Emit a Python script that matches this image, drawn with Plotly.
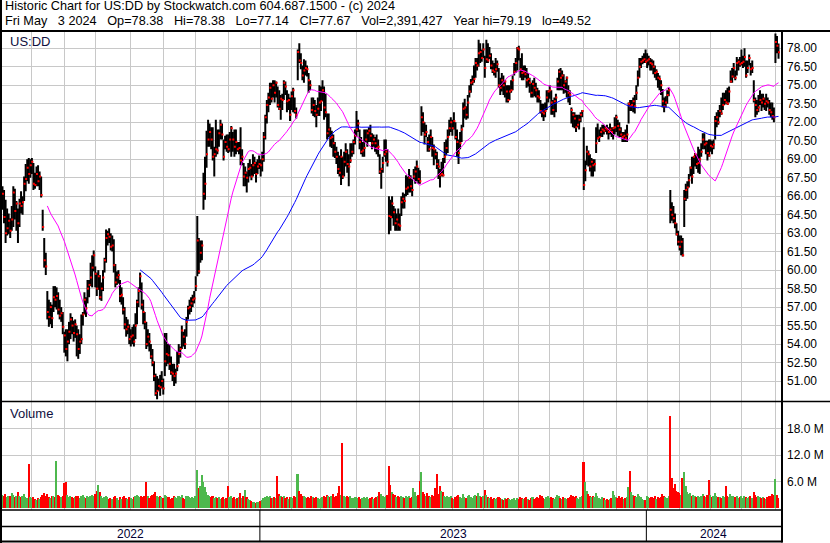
import pandas as pd
import plotly.graph_objects as go

# ---------------- data ----------------
HOLIDAYS = ["2022-05-30", "2022-06-20", "2022-07-04", "2022-09-05", "2022-11-24", "2022-12-26",
            "2023-01-02", "2023-01-16", "2023-02-20", "2023-04-07", "2023-05-29", "2023-06-19",
            "2023-07-04", "2023-09-04", "2023-11-23", "2023-12-25", "2024-01-01", "2024-01-15",
            "2024-02-19", "2024-03-29"]
START_DATE, END_DATE = "2022-05-04", "2024-05-03"

high = [
    66.8,66.5,65.7,65.0,64.6,64.2,65.2,66.8,66.6,65.6,65.0,65.8,66.4,66.0,67.6,68.6,69.0,69.1,69.0,
    69.1,68.7,67.9,68.4,68.5,68.0,67.6,64.9,62.6,61.4,58.3,57.6,57.4,57.2,58.7,58.7,58.6,58.2,57.6,57.0,56.6,
    55.0,55.2,55.2,55.8,56.5,56.2,55.9,56.0,55.5,55.2,54.8,56.4,56.6,58.2,57.8,59.2,59.2,60.6,61.2,61.6,
    60.3,59.8,60.0,59.6,59.0,60.0,61.0,63.3,63.2,63.4,63.0,62.8,62.5,60.5,59.9,60.0,59.2,58.6,57.8,57.0,56.2,56.0,55.6,
    55.2,55.4,55.6,56.5,57.6,58.6,59.8,59.0,57.6,56.6,55.8,55.2,54.9,54.0,53.6,52.6,51.6,51.4,51.2,51.5,51.8,
    51.2,54.9,54.9,54.0,54.0,53.0,52.4,52.4,52.0,53.4,54.0,53.8,55.5,55.0,55.2,56.2,57.1,57.6,57.8,58.0,58.3,
    59.5,64.4,62.6,62.4,62.4,67.9,69.2,71.3,72.2,71.9,71.6,71.6,70.0,72.2,71.4,71.4,72.2,71.9,70.6,70.9,71.0,
    71.0,71.2,71.7,71.2,71.4,71.4,70.4,70.4,71.6,69.8,68.7,68.4,68.0,68.7,69.0,68.6,69.4,69.2,68.8,69.0,69.3,
    69.0,69.6,71.2,72.6,73.8,74.4,75.2,75.2,75.4,75.4,75.3,74.9,74.6,74.2,74.3,75.4,75.3,74.6,74.3,74.0,
    74.5,74.8,74.0,73.2,77.9,78.4,77.6,76.6,77.1,77.0,76.6,76.0,75.4,74.0,74.0,73.8,73.4,74.0,75.0,
    74.9,75.4,74.9,74.3,72.7,72.7,71.6,71.3,71.0,70.4,70.0,69.6,69.3,69.8,69.2,69.6,70.3,69.8,69.4,70.3,70.3,70.6,71.4,
    72.9,72.2,71.4,70.8,70.4,71.4,71.4,71.4,71.6,71.8,71.1,71.0,70.8,71.0,70.6,69.4,68.3,69.2,70.6,
    70.6,69.8,66.0,65.7,66.0,65.2,65.0,64.6,65.0,64.6,66.0,66.3,66.2,67.7,67.6,68.2,67.7,67.4,68.2,68.4,68.9,68.3,
    68.1,73.3,72.8,72.0,71.8,70.8,71.0,71.4,70.8,70.2,69.8,69.6,69.0,68.2,68.8,69.1,70.4,70.6,71.4,72.2,72.4,
    72.2,72.8,72.0,71.4,70.6,71.2,71.8,73.6,73.9,73.3,74.2,75.0,75.5,75.8,76.6,77.2,77.2,78.7,78.4,77.9,
    78.4,77.4,78.7,78.4,78.1,77.6,77.0,76.8,77.2,77.0,76.4,75.6,76.0,75.8,75.4,75.0,75.0,75.0,75.4,75.8,76.8,77.2,78.1,
    78.2,77.2,77.6,76.6,76.6,76.4,76.0,75.6,75.2,75.4,75.6,75.2,74.8,74.6,73.8,73.5,73.5,73.6,74.6,74.6,
    75.0,74.6,73.8,74.0,74.3,75.6,76.3,76.4,76.2,75.9,75.4,75.7,75.0,74.6,73.2,72.8,72.8,72.6,72.6,72.6,72.8,73.0,
    71.6,68.9,70.1,69.7,69.4,69.1,69.0,69.0,71.6,71.9,71.4,71.6,71.8,71.8,71.7,71.8,71.6,71.9,71.6,71.6,72.4,
    72.6,72.2,72.0,71.6,71.2,71.2,71.4,71.8,73.6,73.8,73.8,74.0,74.2,75.0,76.2,77.2,77.2,77.4,77.6,77.9,
    77.6,77.4,77.2,77.1,77.0,76.6,76.3,76.0,75.8,75.4,74.7,74.0,74.1,74.6,74.8,66.5,65.5,65.2,64.6,63.8,63.2,
    62.8,62.8,62.6,66.5,67.0,67.2,67.8,68.4,69.2,69.2,69.5,69.4,70.0,69.8,70.3,71.1,71.1,70.5,70.5,70.6,
    70.6,70.5,70.6,72.5,72.8,73.0,73.4,74.0,74.4,74.4,74.6,74.8,74.9,76.2,76.4,76.8,76.2,77.3,77.1,77.3,
    77.9,77.4,78.0,77.0,77.0,77.5,76.8,77.0,75.4,74.0,73.8,74.2,74.6,74.3,74.3,74.0,74.3,74.0,73.8,73.6,73.6,73.2,
    79.19,79.0,78.38,
]

low = [
    64.9,63.8,62.2,62.8,62.9,62.6,63.2,63.5,64.1,63.2,62.2,63.5,64.6,64.5,65.6,66.4,67.2,67.0,67.5,
    67.8,66.5,66.6,66.8,66.8,66.5,65.9,63.2,60.2,59.6,56.0,55.4,55.6,55.3,56.6,57.0,56.8,56.4,56.0,55.8,54.8,
    53.3,53.0,52.6,54.0,54.4,54.8,54.2,54.5,53.0,52.8,53.2,54.0,55.5,56.4,56.2,57.3,57.8,58.7,58.6,59.9,
    58.6,57.9,58.4,57.6,57.5,58.3,59.8,60.6,62.0,62.2,61.6,61.5,59.8,58.6,58.8,58.9,57.4,57.2,56.4,55.2,54.6,54.8,54.0,
    53.8,54.0,53.8,54.4,55.6,57.0,58.2,56.8,55.6,55.2,53.6,53.8,53.4,52.8,52.2,51.0,49.8,49.52,50.2,49.8,50.4,
    49.9,51.4,52.2,52.4,51.9,51.5,51.0,50.6,50.8,51.8,52.4,52.9,53.6,53.8,53.6,54.6,56.0,56.4,56.6,57.0,57.3,
    58.3,59.5,59.7,60.6,60.8,64.9,65.7,68.3,70.0,70.0,69.8,68.9,67.6,69.2,69.4,70.0,70.6,70.6,68.9,69.8,69.6,
    69.5,69.6,69.2,69.6,69.2,69.4,69.6,69.4,68.5,68.5,66.8,66.8,66.3,67.1,67.6,67.3,67.6,67.8,67.1,67.8,68.2,
    67.6,68.0,68.8,70.6,71.9,72.8,73.4,73.6,74.0,73.6,74.0,73.2,73.0,72.2,73.0,73.8,74.2,72.8,73.0,72.1,
    73.0,72.8,72.7,72.3,75.4,76.8,76.3,75.4,75.2,75.8,75.7,74.4,74.6,72.7,72.5,72.4,71.6,72.5,72.5,
    72.9,73.7,72.2,72.4,70.6,70.8,70.0,69.9,69.2,69.1,68.6,67.8,67.6,66.9,67.4,67.6,68.4,67.9,66.8,68.7,69.2,69.4,70.2,
    70.8,71.2,69.8,69.4,69.2,69.2,70.4,70.0,70.4,70.4,69.8,70.0,69.6,69.4,69.2,67.8,66.6,67.9,69.2,
    68.8,68.4,62.9,63.2,64.2,63.6,63.2,63.2,63.2,63.2,64.4,65.0,65.0,66.0,66.1,66.3,66.3,66.0,67.4,67.0,67.2,67.0,
    67.0,70.9,71.2,70.2,70.8,69.6,69.6,70.0,69.2,68.5,69.0,68.2,67.4,66.7,67.6,67.6,68.7,69.3,69.5,70.9,71.2,
    70.9,71.4,70.6,69.2,68.6,69.8,70.4,71.6,72.3,72.2,72.3,74.0,74.4,75.0,75.2,75.6,76.2,76.5,76.8,76.9,
    77.2,75.6,76.8,76.8,77.1,76.3,76.0,75.8,75.6,76.1,74.8,74.2,74.5,74.2,74.0,73.6,73.6,73.8,74.4,74.6,75.8,76.0,76.2,
    77.0,75.6,75.4,75.4,75.6,74.8,74.9,74.4,74.0,74.0,74.1,74.0,73.6,73.6,72.7,72.4,72.1,72.4,73.0,73.6,
    73.9,72.6,72.6,72.4,72.8,74.6,74.6,74.6,74.6,74.3,74.4,74.0,73.6,73.4,71.9,71.6,71.5,71.2,71.6,71.4,72.0,72.4,
    66.5,67.2,68.5,68.4,68.0,67.6,67.6,68.0,69.5,70.6,70.4,70.8,70.8,71.0,71.2,71.0,70.6,71.0,70.8,70.6,71.0,
    71.2,70.9,70.8,70.8,70.4,70.4,70.4,70.4,71.9,72.9,72.9,72.8,72.7,73.8,74.9,75.6,76.4,76.7,76.8,76.8,
    76.4,76.6,76.2,76.2,75.9,75.6,75.4,74.8,74.6,74.2,73.2,72.8,73.2,73.5,74.1,63.8,64.0,63.8,63.4,62.8,62.0,
    61.6,61.2,61.1,63.5,65.6,65.8,66.7,67.6,67.0,67.8,68.4,68.2,67.9,67.8,69.2,69.8,69.8,69.4,68.9,69.2,
    69.6,69.4,69.8,70.6,71.6,71.8,72.4,72.6,73.0,73.4,73.5,73.4,73.6,75.2,75.2,75.6,75.4,75.8,76.2,76.5,
    76.6,76.4,76.5,75.6,76.0,76.6,75.8,76.0,73.6,72.4,72.6,72.8,73.4,72.9,73.2,73.0,72.9,73.2,72.6,72.4,72.2,72.0,
    76.8,77.6,77.14,
]

close = [
    66.2,64.3,63.0,63.4,64.0,63.2,64.1,66.3,64.8,65.4,63.8,65.4,65.2,65.5,67.0,67.4,68.3,67.8,68.5,
    68.8,67.0,66.9,67.8,67.2,67.6,66.1,63.5,60.8,60.3,56.6,56.2,57.0,56.1,57.8,57.6,57.9,56.8,56.3,56.5,55.4,
    54.7,53.6,54.2,55.0,56.0,55.5,54.9,55.6,54.8,53.6,54.2,54.4,56.4,57.6,56.9,58.5,58.8,59.4,60.2,61.2,
    59.7,58.5,59.5,57.8,58.5,59.4,60.8,62.6,62.9,62.7,61.9,62.0,60.4,59.0,59.4,59.6,57.9,58.0,56.8,55.6,55.2,55.4,54.4,
    54.6,54.7,54.2,55.5,57.4,58.3,59.5,57.2,56.6,55.8,54.0,54.6,54.2,53.0,52.5,51.4,50.0,50.2,50.6,50.5,51.0,
    50.4,52.6,53.2,53.1,52.4,51.7,51.6,51.4,51.6,52.2,53.2,53.6,55.1,54.6,54.0,55.8,56.9,57.0,57.3,57.6,57.7,
    58.7,62.4,59.9,61.4,62.0,66.2,67.0,69.4,70.6,71.2,70.6,69.2,69.4,69.8,69.7,71.1,71.8,71.0,69.2,70.4,70.0,
    69.8,70.6,71.5,70.6,70.0,70.4,69.8,69.9,68.9,69.2,67.6,67.9,67.5,68.2,68.3,67.6,68.5,68.7,67.8,68.4,68.6,
    68.5,69.0,70.8,72.4,73.4,74.0,74.8,73.9,75.0,74.4,75.2,73.4,73.1,73.9,73.8,75.2,74.9,73.7,73.8,72.6,
    74.1,74.6,72.9,72.6,77.7,77.0,76.8,75.8,76.2,76.4,76.3,75.4,75.0,73.0,73.4,72.9,72.6,73.1,73.6,
    73.7,74.6,73.2,72.8,71.1,71.4,70.7,70.8,70.3,69.6,69.2,68.2,67.9,69.2,67.6,68.8,69.6,68.6,68.4,68.9,69.6,70.4,70.9,
    71.4,71.9,70.4,69.6,69.7,69.9,70.6,71.1,71.3,70.9,70.3,70.6,70.3,69.9,70.0,68.0,68.2,68.7,69.4,
    69.6,68.8,64.4,64.3,65.4,64.7,63.8,64.1,63.7,63.6,65.5,65.8,65.6,66.6,66.7,67.5,66.8,66.5,67.6,68.0,68.4,67.4,
    67.2,72.4,72.0,71.0,71.2,70.4,69.8,70.8,69.9,69.8,69.4,68.6,68.4,67.7,67.8,67.7,69.2,69.9,70.8,71.5,72.0,
    71.5,72.1,70.8,70.4,69.5,70.3,71.4,73.1,73.2,72.6,73.6,74.5,75.2,75.3,75.5,76.8,76.6,77.6,77.7,77.2,
    77.9,76.4,77.1,77.0,77.4,76.6,76.2,76.1,76.3,76.7,75.0,74.8,75.4,75.0,75.3,74.5,73.8,74.5,74.6,75.4,76.1,76.8,78.0,
    77.9,76.3,76.0,76.1,75.9,75.4,75.5,75.2,74.4,75.1,74.8,74.6,74.1,74.0,72.9,72.8,72.7,72.9,74.0,74.5,
    74.6,73.6,73.0,73.7,74.0,75.3,76.1,75.6,75.8,75.0,75.3,75.6,74.4,74.2,73.0,72.6,72.3,71.6,71.8,72.2,72.6,72.9,
    66.9,68.1,69.6,69.4,68.4,68.8,68.5,68.6,70.3,70.7,70.8,71.2,71.4,71.3,71.5,71.4,71.2,71.4,71.2,71.5,71.6,
    72.4,71.7,71.4,71.0,70.8,70.9,70.7,71.0,73.5,73.3,73.4,73.7,73.3,74.4,75.6,76.5,76.9,77.0,77.1,76.9,
    77.0,77.1,76.8,76.7,76.5,76.0,76.1,75.6,75.5,75.0,73.7,73.3,73.6,74.2,74.6,64.9,64.5,64.2,63.8,62.9,62.3,
    61.9,62.3,61.2,65.8,66.5,66.7,67.3,68.3,67.6,69.2,69.4,68.6,68.7,69.0,69.6,70.6,70.2,70.3,69.5,69.3,
    70.1,70.0,70.2,72.1,72.4,72.0,72.9,72.7,73.4,73.8,73.6,73.5,74.5,75.3,75.7,76.4,75.6,76.8,76.9,76.7,
    76.8,76.9,77.3,75.8,76.4,77.2,76.3,76.4,73.8,73.4,73.0,73.2,73.8,73.6,73.9,73.5,73.7,73.6,73.0,72.8,72.5,72.4,
    78.5,78.2,77.67,
]

volume_m = [
    3.1,2.8,3.3,2.6,2.9,2.7,3.4,3.0,2.5,2.8,3.6,2.7,2.6,2.9,3.2,2.5,2.4,10.0,2.6,
    2.3,2.6,2.2,2.0,2.4,2.1,2.5,3.0,3.5,2.8,3.2,2.6,2.4,2.9,2.7,2.5,10.8,3.0,2.8,2.6,2.7,
    5.7,6.0,3.0,2.6,2.8,2.5,2.4,2.6,2.9,2.7,2.3,2.8,3.1,2.6,2.4,2.9,2.5,2.7,3.0,2.8,
    3.2,4.0,5.3,3.6,2.8,2.4,2.6,2.9,2.5,2.2,2.4,2.1,2.6,2.8,2.3,2.0,2.5,2.2,2.6,2.9,2.4,2.2,2.6,
    2.4,2.2,2.5,2.8,3.0,2.7,2.6,2.9,2.5,2.8,6.0,2.7,2.4,2.9,3.1,3.3,3.6,2.8,2.5,2.7,2.6,
    2.4,3.0,2.7,2.5,2.6,2.2,2.4,2.8,2.5,2.3,2.9,2.6,3.1,2.4,2.2,2.7,2.8,2.5,2.4,2.6,2.3,
    2.8,8.7,4.5,5.0,7.6,6.0,4.8,3.8,3.0,2.8,2.5,2.7,2.4,2.6,2.3,2.5,2.2,2.4,2.6,2.1,2.3,
    5.1,2.6,2.8,2.4,2.5,2.2,2.3,2.6,3.4,2.4,2.7,4.2,2.5,2.2,1.8,1.6,1.5,1.4,1.3,1.5,1.4,
    1.6,1.9,2.4,2.6,2.8,2.5,2.7,2.3,2.4,2.6,2.3,7.3,3.2,2.8,2.5,2.7,2.4,2.6,2.2,2.5,
    2.6,2.4,2.8,2.5,7.7,4.0,3.2,2.9,2.7,2.5,2.3,2.6,2.4,2.8,2.5,2.3,2.6,2.4,2.2,
    2.4,2.6,2.8,2.5,3.0,2.7,2.5,2.9,3.3,2.6,2.8,3.5,5.0,3.0,14.7,2.9,2.6,2.8,2.5,2.7,2.4,2.3,2.6,
    2.6,2.3,2.5,2.2,2.4,2.6,2.3,2.5,2.1,2.4,2.6,2.2,2.3,2.5,2.7,3.6,3.2,2.8,2.6,
    2.7,3.0,9.6,5.3,3.8,3.2,3.0,2.6,2.8,2.5,2.9,2.6,2.3,2.7,2.5,2.8,2.4,2.6,4.7,3.6,2.9,3.1,
    6.1,8.1,3.7,3.3,2.9,3.4,2.8,2.6,3.0,2.7,4.7,7.8,3.2,5.0,4.0,3.6,2.9,2.6,2.8,2.5,2.7,
    2.4,2.2,2.6,2.8,3.0,2.5,2.3,3.2,2.6,2.4,2.7,3.0,2.6,2.4,2.8,3.1,2.7,3.4,2.9,2.5,
    2.8,4.2,3.0,2.6,2.3,2.5,2.2,2.4,2.1,2.3,2.6,2.4,2.2,2.0,2.3,2.1,2.4,2.2,1.9,2.1,2.3,2.0,2.4,
    2.2,2.5,2.3,2.1,2.4,2.6,2.2,2.0,2.3,2.5,2.1,2.4,2.6,2.3,3.0,2.7,2.4,2.2,2.5,2.8,
    2.4,2.6,2.3,2.1,2.5,3.0,2.8,2.4,2.2,2.5,2.3,2.1,2.4,2.6,3.1,2.8,2.5,2.7,2.4,2.2,2.6,2.8,
    10.5,6.0,4.0,3.2,2.9,2.6,2.8,2.5,3.4,2.7,2.4,2.2,2.5,2.3,2.0,2.2,1.9,2.1,2.3,4.0,3.0,
    2.6,2.4,2.7,2.3,2.5,2.2,2.4,2.6,4.8,8.5,3.6,3.0,2.8,2.6,3.2,2.9,2.5,2.2,1.8,1.9,
    2.8,2.5,2.3,2.6,2.4,2.7,2.2,2.5,2.3,2.6,3.3,2.8,2.5,2.4,2.7,20.9,6.8,4.5,5.6,4.0,3.6,
    3.4,3.0,6.8,8.1,5.0,3.6,3.2,3.4,2.9,3.1,2.7,2.5,2.8,2.6,2.9,3.2,2.7,2.5,3.0,6.4,
    3.0,2.6,2.8,3.4,2.7,2.5,2.6,2.4,2.7,2.5,5.0,2.8,2.6,3.2,2.9,2.7,2.5,2.8,2.4,2.6,
    2.7,2.4,2.9,2.6,2.3,2.5,2.7,2.4,3.6,3.0,2.6,2.8,2.5,2.3,2.6,2.4,2.2,2.5,2.7,2.8,3.3,3.0,
    6.6,3.0,2.391427,
]

MA_SHORT, MA_LONG = 30, 90
PRICE_TICKS = [51 + 1.5 * k for k in range(19)]
VOL_TICKS = [6, 12, 18]
VOL_TICK_TEXT = ["6.0 M", "12.0 M", "18.0 M"]
HEADER_1 = "Historic Chart for US:DD by Stockwatch.com 604.687.1500 - (c) 2024"
HEADER_2 = ("Fri May\u00a0\u00a0\u00a03 2024\u00a0\u00a0\u00a0Op=78.38\u00a0\u00a0\u00a0Hi=78.38\u00a0\u00a0\u00a0"
            "Lo=77.14\u00a0\u00a0\u00a0Cl=77.67\u00a0\u00a0\u00a0Vol=2,391,427\u00a0\u00a0\u00a0"
            "Year hi=79.19\u00a0\u00a0\u00a0lo=49.52")
SYMBOL = "US:DD"

# ---------------- derived ----------------
n = min(len(high), len(low), len(close), len(volume_m))
dates = pd.bdate_range(START_DATE, END_DATE, freq="C", holidays=HOLIDAYS)[:n]
idx = list(range(n))

month_starts = [i for i in range(1, len(dates)) if dates[i].month != dates[i - 1].month]
year_starts = [i for i in range(1, len(dates)) if dates[i].year != dates[i - 1].year]

cs = pd.Series(close[:n])
ma_s = cs.rolling(MA_SHORT).mean()
ma_l = cs.rolling(MA_LONG).mean()

vcol = []
for i in range(n):
    if i == 0 or close[i] > close[i - 1]:
        vcol.append("#4db84d")
    elif close[i] < close[i - 1]:
        vcol.append("#ff0000")
    else:
        vcol.append("#a8a8a8")

hl_x, hl_y = [], []
for i in range(n):
    hl_x += [i, i, None]
    hl_y += [low[i], high[i], None]

# ---------------- geometry ----------------
W, H = 830, 543
PX_L, PX_R = 2.0, 781.0
PRICE_TOP, PRICE_BOT = 31.5, 401.0
VOL_TOP, VOL_BOT = 402.0, 509.5
XR = [-0.32, n - 1 + 1.6]
YR = [49.38, 79.36]
VR = [-0.25, 24.0]


def fx(p):
    return p / W


def fy(p):
    return 1 - p / H


def xpx(v):
    return PX_L + (v - XR[0]) * (PX_R - PX_L) / (XR[1] - XR[0])


FONT = "Liberation Sans, Arial, sans-serif"
GRID = "#c8c8c8"

fig = go.Figure()
fig.add_trace(go.Scatter(x=hl_x, y=hl_y, mode="lines", line=dict(color="#000000", width=2),
                         xaxis="x", yaxis="y", hoverinfo="skip"))
fig.add_trace(go.Scatter(x=[i + 0.3 for i in idx], y=close[:n], mode="markers",
                         marker=dict(symbol="square", size=2, color="#ff0000", line=dict(width=0)),
                         xaxis="x", yaxis="y", hoverinfo="skip"))
fig.add_trace(go.Scatter(x=idx, y=ma_l, mode="lines", line=dict(color="#0000ff", width=1),
                         xaxis="x", yaxis="y", hoverinfo="skip"))
fig.add_trace(go.Scatter(x=idx, y=ma_s, mode="lines", line=dict(color="#ff00ff", width=1),
                         xaxis="x", yaxis="y", hoverinfo="skip"))
fig.add_trace(go.Bar(x=idx, y=volume_m[:n], marker=dict(color=vcol, line=dict(width=0)),
                     width=1.0, xaxis="x2", yaxis="y2", hoverinfo="skip"))

axis_common = dict(showline=False, zeroline=False, gridcolor=GRID, gridwidth=1)
fig.update_layout(
    width=W, height=H, margin=dict(l=0, r=0, t=0, b=0),
    paper_bgcolor="white", plot_bgcolor="white", showlegend=False, hovermode=False,
    bargap=0, font=dict(family=FONT, size=12, color="#000000"),
    xaxis=dict(domain=[fx(PX_L), fx(PX_R)], range=XR, anchor="y", tickmode="array",
               tickvals=month_starts, showticklabels=False, ticks="", showgrid=True, **axis_common),
    xaxis2=dict(domain=[fx(PX_L), fx(PX_R)], range=XR, anchor="y2", matches="x", tickmode="array",
                tickvals=month_starts, showticklabels=False, ticks="", showgrid=True, **axis_common),
    yaxis=dict(domain=[fy(PRICE_BOT), fy(PRICE_TOP)], range=YR, anchor="x", side="right",
               tickmode="array", tickvals=PRICE_TICKS, ticktext=[f"{v:.2f}" for v in PRICE_TICKS],
               ticks="", ticklabelstandoff=5, showgrid=True,
               tickfont=dict(family=FONT, size=12, color="#000000"), **axis_common),
    yaxis2=dict(domain=[fy(VOL_BOT), fy(VOL_TOP)], range=VR, anchor="x2", side="right",
                tickmode="array", tickvals=VOL_TICKS, ticktext=VOL_TICK_TEXT,
                ticks="", ticklabelstandoff=5, showgrid=True,
                tickfont=dict(family=FONT, size=12, color="#000000"), **axis_common),
)

shapes = []


def hline(y, x0, x1, w=2):
    shapes.append(dict(type="line", xref="paper", yref="paper", x0=fx(x0), x1=fx(x1),
                       y0=fy(y), y1=fy(y), line=dict(color="black", width=w)))


def vline(x, y0, y1, w=2):
    shapes.append(dict(type="line", xref="paper", yref="paper", x0=fx(x), x1=fx(x),
                       y0=fy(y0), y1=fy(y1), line=dict(color="black", width=w)))


hline(31, 0, W)
hline(401.5, 0, W, 1.5)
hline(510, 0, 782.5, 1.5)
hline(526.5, 0, 782.5, 1.5)
hline(541.5, 0, 782.5, 2)
vline(1, 0, H)
vline(782, 30, 542.5)
for ys in year_starts:
    vline(xpx(ys - 0.5), 510, 541.5, 1)
fig.update_layout(shapes=shapes)

ann = [
    dict(text=HEADER_1, x=fx(3), y=fy(6.0), xanchor="left", yanchor="middle",
         font=dict(size=12.7, color="#000000", family=FONT)),
    dict(text=HEADER_2, x=fx(3), y=fy(21.0), xanchor="left", yanchor="middle",
         font=dict(size=12.7, color="#000000", family=FONT)),
    dict(text=SYMBOL, x=fx(8), y=fy(41.5), xanchor="left", yanchor="middle",
         font=dict(size=13, color="#101040", family=FONT)),
    dict(text="Volume", x=fx(8), y=fy(413.5), xanchor="left", yanchor="middle",
         font=dict(size=13, color="#101040", family=FONT)),
]
bounds = [XR[0]] + [ys - 0.5 for ys in year_starts] + [XR[1]]
for k in range(len(bounds) - 1):
    mid_idx = int(max(0, min(n - 1, (bounds[k] + bounds[k + 1]) / 2)))
    ann.append(dict(text=str(dates[mid_idx].year), x=fx((xpx(bounds[k]) + xpx(bounds[k + 1])) / 2),
                    y=fy(534), xanchor="center", yanchor="middle",
                    font=dict(size=12, color="#000033", family=FONT)))
for a in ann:
    a.update(xref="paper", yref="paper", showarrow=False)
    a.setdefault("font", dict(size=12, color="#000000", family=FONT))
fig.update_layout(annotations=ann)

fig.write_html("out.html", config={"displayModeBar": False},
               post_script="document.body.style.margin='0';document.body.style.overflow='hidden';")
